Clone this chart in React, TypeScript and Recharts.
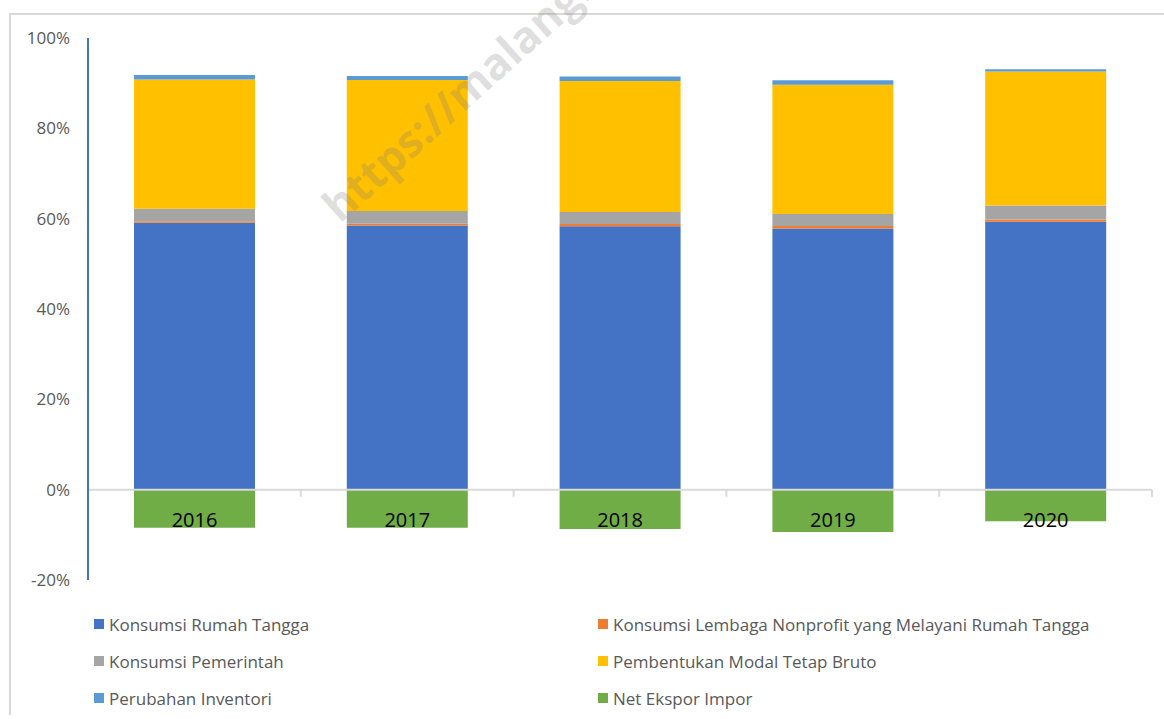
import React from 'react';
import { BarChart, Bar, XAxis, YAxis, ReferenceLine, LabelList } from 'recharts';

const years = ['2016', '2017', '2018', '2019', '2020'];
const rumahTangga = [59.1, 58.5, 58.3, 57.8, 59.3];
const lnprt = [0.35, 0.4, 0.5, 0.55, 0.5];
const pemerintah = [2.75, 2.8, 2.7, 2.7, 3.1];
const pmtb = [28.6, 29.0, 29.0, 28.6, 29.7];
const inventori = [1.0, 0.9, 1.0, 1.0, 0.5];
const netEkspor = [-8.45, -8.45, -8.7, -9.35, -7.0];
const yTicks = [-20, 0, 20, 40, 60, 80, 100];

const series = [
  { key: 'rt', name: 'Konsumsi Rumah Tangga', color: '#4472C4', values: rumahTangga },
  { key: 'lnprt', name: 'Konsumsi Lembaga Nonprofit yang Melayani Rumah Tangga', color: '#ED7D31', values: lnprt },
  { key: 'pem', name: 'Konsumsi Pemerintah', color: '#A5A5A5', values: pemerintah },
  { key: 'pmtb', name: 'Pembentukan Modal Tetap Bruto', color: '#FFC000', values: pmtb },
  { key: 'inv', name: 'Perubahan Inventori', color: '#5B9BD5', values: inventori },
  { key: 'net', name: 'Net Ekspor Impor', color: '#70AD47', values: netEkspor },
];

const data = years.map((year, i) => {
  const row: Record<string, string | number> = { year };
  series.forEach((s) => (row[s.key] = s.values[i]));
  return row;
});

// plot geometry
const W = 1164;
const H = 620;
const X_AXIS_H = 30;
const M = { top: 38, right: 12, bottom: 10, left: 0 };
const AXIS_W = 88;
const plotBottom = H - M.bottom - X_AXIS_H;
const band = (W - M.right - AXIS_W) / years.length;
const zeroY = M.top + ((100 - 0) / 120) * (plotBottom - M.top);

// small tick marks between categories on the zero line
const BoundaryTick = (props: any) => {
  const { x } = props;
  const bx = x + band / 2;
  return <line x1={bx} x2={bx} y1={zeroY} y2={zeroY + 7} stroke="#d9d9d9" strokeWidth={2} />;
};

const YearLabel = (props: any) => {
  const { x, width, index } = props;
  return (
    <text x={x + width / 2} y={zeroY + 37} textAnchor="middle" fill="#000" fontSize={20}>
      {years[index]}
    </text>
  );
};

export default function App() {
  return (
    <div
      style={{
        position: 'absolute',
        left: 0,
        top: 0,
        width: W,
        height: 719,
        background: '#fff',
        fontFamily: '"Open Sans", sans-serif',
        overflow: 'hidden',
      }}
    >
      <div
        style={{
          position: 'absolute',
          left: 9,
          top: 13,
          width: W,
          height: 700,
          borderTop: '2px solid #d9d9d9',
          borderLeft: '2px solid #d9d9d9',
        }}
      />
      <div style={{ position: 'absolute', left: 0, top: 0 }}>
        <BarChart width={W} height={H} data={data} margin={M} stackOffset="sign" barSize={121}>
          <YAxis
            width={AXIS_W}
            domain={[-20, 100]}
            ticks={yTicks}
            interval={0}
            tickFormatter={(v) => `${v}%`}
            axisLine={{ stroke: '#4472C4', strokeWidth: 2 }}
            tickLine={false}
            tickSize={0}
            tickMargin={18}
            tick={{ fill: '#595959', fontSize: 17 }}
          />
          <XAxis
            dataKey="year"
            height={X_AXIS_H}
            axisLine={false}
            tickLine={false}
            tickSize={0}
            tick={<BoundaryTick />}
            interval={0}
          />
          {series.map((s) => (
            <Bar
              key={s.key}
              dataKey={s.key}
              name={s.name}
              stackId="a"
              fill={s.color}
              isAnimationActive={false}
            >
              {s.key === 'net' && <LabelList dataKey="year" content={<YearLabel />} />}
            </Bar>
          ))}
          <ReferenceLine y={0} stroke="#d9d9d9" strokeWidth={2} />
        </BarChart>
      </div>
      {series.map((s, i) => {
        const col = i % 2;
        const row = Math.floor(i / 2);
        return (
          <div
            key={s.key}
            style={{
              position: 'absolute',
              left: col ? 598 : 94,
              top: 624 + row * 37 - 12,
              height: 24,
              display: 'flex',
              alignItems: 'center',
              whiteSpace: 'nowrap',
              color: '#595959',
              fontSize: 17,
            }}
          >
            <span style={{ width: 10, height: 10, background: s.color, marginRight: 5, display: 'inline-block' }} />
            {s.name}
          </div>
        );
      })}
      <svg width={W} height={719} style={{ position: 'absolute', left: 0, top: 0, pointerEvents: 'none' }}>
        <text
          x={340}
          y={224}
          transform="rotate(-42 340 224)"
          fontSize={44}
          fontWeight={700}
          fill="#7f7f7f"
          fillOpacity={0.25}
        >
          https://malangkota.bps.go.id
        </text>
      </svg>
    </div>
  );
}
